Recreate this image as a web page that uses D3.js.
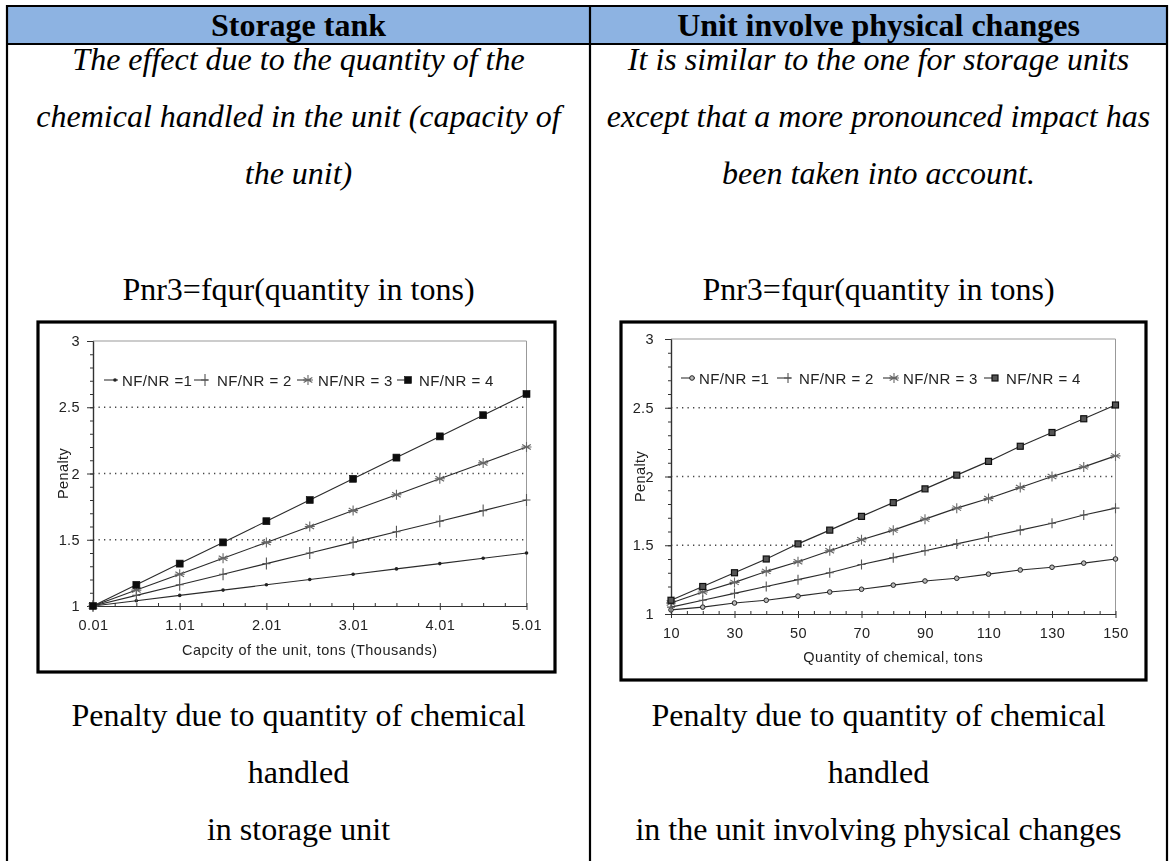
<!DOCTYPE html>
<html>
<head>
<meta charset="utf-8">
<script src="https://cdn.jsdelivr.net/npm/d3@7"></script>
<style>
  html, body { margin: 0; padding: 0; background: #fff; }
  svg { display: block; }
</style>
</head>
<body>
<svg id="page" width="1173" height="861"></svg>
<script>
// ---- text content ----
const headers = ["Storage tank", "Unit involve physical changes"];
const descLeft = ["The effect due to the quantity of the", "chemical handled in the unit (capacity of", "the unit)"];
const descRight = ["It is similar to the one for storage units", "except that a more pronounced impact has", "been taken into account."];
const formulaText = "Pnr3=fqur(quantity in tons)";
const captionLeft = ["Penalty due to quantity of chemical", "handled", "in storage unit"];
const captionRight = ["Penalty due to quantity of chemical", "handled", "in the unit involving physical changes"];

// ---- chart data ----
const seriesLabelsLeft = ["NF/NR =1", "NF/NR = 2", "NF/NR = 3", "NF/NR = 4"];
const seriesLabelsRight = ["NF/NR =1", "NF/NR = 2", "NF/NR = 3", "NF/NR = 4"];

// storage tank: capacity in thousands of tons
const capacity = [0.01, 0.51, 1.01, 1.51, 2.01, 2.51, 3.01, 3.51, 4.01, 4.51, 5.01];
const storage1 = [1.00, 1.04, 1.08, 1.12, 1.16, 1.20, 1.24, 1.28, 1.32, 1.36, 1.40];
const storage2 = [1.00, 1.08, 1.16, 1.24, 1.32, 1.40, 1.48, 1.56, 1.64, 1.72, 1.80];
const storage3 = [1.00, 1.12, 1.24, 1.36, 1.48, 1.60, 1.72, 1.84, 1.96, 2.08, 2.20];
const storage4 = [1.00, 1.16, 1.32, 1.48, 1.64, 1.80, 1.96, 2.12, 2.28, 2.44, 2.60];

// physical-change unit: quantity in tons
const quantity = [10, 20, 30, 40, 50, 60, 70, 80, 90, 100, 110, 120, 130, 140, 150];
const physical1 = [1.03, 1.05, 1.08, 1.10, 1.13, 1.16, 1.18, 1.21, 1.24, 1.26, 1.29, 1.32, 1.34, 1.37, 1.40];
const physical2 = [1.05, 1.10, 1.15, 1.20, 1.25, 1.30, 1.36, 1.41, 1.46, 1.51, 1.56, 1.61, 1.66, 1.72, 1.77];
const physical3 = [1.08, 1.16, 1.23, 1.31, 1.38, 1.46, 1.54, 1.61, 1.69, 1.77, 1.84, 1.92, 2.00, 2.07, 2.15];
const physical4 = [1.10, 1.20, 1.30, 1.40, 1.51, 1.61, 1.71, 1.81, 1.91, 2.01, 2.11, 2.22, 2.32, 2.42, 2.52];

// ---- tick labels ----
const penaltyTicks = [1, 1.5, 2, 2.5, 3];
const gridLevels = [1.5, 2, 2.5];
const capacityTicks = [0.01, 1.01, 2.01, 3.01, 4.01, 5.01];
const quantityTicks = [10, 30, 50, 70, 90, 110, 130, 150];

const axisTitleLeft = "Capcity of the unit, tons (Thousands)";
const axisTitleRight = "Quantity of chemical, tons";
const yTitle = "Penalty";

// ---- page ----
const svg = d3.select("#page");
const serif = "'Liberation Serif', 'Times New Roman', serif";
const sans = "'Liberation Sans', Arial, Helvetica, sans-serif";

const defs = svg.append("defs");
defs.append("filter").attr("id", "soft").attr("x", "-5%").attr("y", "-5%").attr("width", "110%").attr("height", "110%")
  .append("feGaussianBlur").attr("stdDeviation", 0.45);

const T = { left: 7, mid: 590, right: 1167, top: 6, head: 44, bottom: 861 };
const colCenter = [(T.left + T.mid) / 2, (T.mid + T.right) / 2];

// header band
svg.append("rect").attr("x", T.left).attr("y", T.top).attr("width", T.right - T.left).attr("height", T.head - T.top)
  .attr("fill", "#8db3e2");

// header titles
svg.selectAll("text.head").data(headers).join("text")
  .attr("class", "head")
  .attr("x", (d, i) => colCenter[i]).attr("y", 36)
  .attr("text-anchor", "middle")
  .style("font-family", serif).style("font-weight", "bold").style("font-size", "32px")
  .text(d => d);

// description (italic) and captions
const lineGap = 57;
function block(lines, col, y0, italic) {
  svg.append("g").selectAll("text").data(lines).join("text")
    .attr("x", colCenter[col]).attr("y", (d, i) => y0 + i * lineGap)
    .attr("text-anchor", "middle")
    .style("font-family", serif).style("font-size", "32px")
    .style("font-style", italic ? "italic" : "normal")
    .text(d => d);
}
block(descLeft, 0, 70, true);
block(descRight, 1, 70, true);
block([formulaText], 0, 300, false);
block([formulaText], 1, 300, false);
block(captionLeft, 0, 726, false);
block(captionRight, 1, 726, false);

// table rules
const rules = svg.append("g").attr("stroke", "#000").attr("stroke-width", 2.2);
rules.append("line").attr("x1", T.left - 1).attr("x2", T.right + 1).attr("y1", T.top).attr("y2", T.top);
rules.append("line").attr("x1", T.left - 1).attr("x2", T.right + 1).attr("y1", T.head).attr("y2", T.head);
[T.left, T.mid, T.right].forEach(xv =>
  rules.append("line").attr("x1", xv).attr("x2", xv).attr("y1", T.top - 1).attr("y2", T.bottom));

// ---- markers ----
function drawMarker(g, kind, cx, cy, style) {
  const s = style === "right";
  if (kind === 0) {
    if (s) {
      g.append("circle").attr("cx", cx).attr("cy", cy).attr("r", 2.3)
        .attr("fill", "#bbb").attr("stroke", "#222").attr("stroke-width", 1);
    } else {
      g.append("circle").attr("cx", cx).attr("cy", cy).attr("r", 1.8).attr("fill", "#222");
    }
  } else if (kind === 1) {
    const h = s ? 5 : 6, w = 4;
    g.append("path").attr("d", `M${cx - w},${cy}H${cx + w}M${cx},${cy - h}V${cy + h}`)
      .attr("stroke", "#555").attr("stroke-width", 1.1).attr("fill", "none");
  } else if (kind === 2) {
    const r = 5;
    const d = [0, 60, 120].map(a => {
      const t = a * Math.PI / 180;
      return `M${cx - r * Math.sin(t)},${cy - r * Math.cos(t)}L${cx + r * Math.sin(t)},${cy + r * Math.cos(t)}`;
    }).join("") + `M${cx - r},${cy}H${cx + r}`;
    g.append("path").attr("d", d).attr("stroke", "#666").attr("stroke-width", 1.1).attr("fill", "none");
  } else {
    const a = s ? 3 : 3.5;
    g.append("rect").attr("x", cx - a).attr("y", cy - a).attr("width", 2 * a).attr("height", 2 * a)
      .attr("fill", s ? "#555" : "#111").attr("stroke", "#111").attr("stroke-width", s ? 1.2 : 0.6);
  }
}

// ---- chart panel ----
function drawChart(cfg) {
  const g = svg.append("g");
  g.append("rect")
    .attr("x", cfg.box[0]).attr("y", cfg.box[1])
    .attr("width", cfg.box[2] - cfg.box[0]).attr("height", cfg.box[3] - cfg.box[1])
    .attr("fill", "#fff").attr("stroke", "#000").attr("stroke-width", 3.2);

  const c = g.append("g").attr("filter", "url(#soft)");
  const x = d3.scaleLinear().domain(cfg.xDomain).range([cfg.plot.left, cfg.plot.right]);
  const y = d3.scaleLinear().domain([1, 3]).range([cfg.plot.bottom, cfg.plot.top]);

  // dotted grid
  c.append("g").selectAll("line").data(gridLevels).join("line")
    .attr("x1", cfg.plot.left).attr("x2", cfg.plot.right)
    .attr("y1", d => y(d)).attr("y2", d => y(d))
    .attr("stroke", "#444").attr("stroke-width", 1.3).attr("stroke-dasharray", "1.3 4.2");

  // top and right frame
  c.append("path")
    .attr("d", `M${cfg.plot.left},${y(3)}H${cfg.plot.right}V${y(1)}`)
    .attr("fill", "none").attr("stroke", "#999").attr("stroke-width", 1);

  // y axis: minor then major ticks
  const yMinor = c.append("g").attr("transform", `translate(${cfg.plot.left},0)`)
    .call(d3.axisLeft(y).tickValues(d3.range(1, 3.001, 0.1)).tickSize(3).tickFormat("").tickSizeOuter(0));
  const yMajor = c.append("g").attr("transform", `translate(${cfg.plot.left},0)`)
    .call(d3.axisLeft(y).tickValues(penaltyTicks).tickSize(6).tickPadding(cfg.yPad)
      .tickFormat(d3.format("~g")).tickSizeOuter(0));

  // x axis: minor ticks point up, major ticks down
  const xMinor = c.append("g").attr("transform", `translate(0,${cfg.plot.bottom})`)
    .call(d3.axisBottom(x).tickValues(cfg.xMinor).tickSize(-3).tickFormat("").tickSizeOuter(0));
  const xMajor = c.append("g").attr("transform", `translate(0,${cfg.plot.bottom})`)
    .call(d3.axisBottom(x).tickValues(cfg.xTicks).tickSize(4).tickPadding(10)
      .tickFormat(cfg.xFormat).tickSizeOuter(0));

  [yMinor, yMajor, xMinor, xMajor].forEach(a => {
    a.select(".domain").attr("stroke", "#333").attr("stroke-width", 1.2);
    a.selectAll(".tick line").attr("stroke", "#333").attr("stroke-width", 1);
    a.selectAll("text").attr("fill", "#222")
      .style("font-family", sans).style("font-size", "14.5px").style("letter-spacing", "0.4px");
  });

  // axis titles
  c.append("text")
    .attr("x", (cfg.plot.left + cfg.plot.right) / 2).attr("y", cfg.xTitleY)
    .attr("text-anchor", "middle").attr("fill", "#222")
    .style("font-family", sans).style("font-size", "14.5px").style("letter-spacing", "0.5px")
    .text(cfg.xTitle);
  c.append("text")
    .attr("transform", `translate(${cfg.yTitleX},${y(2)}) rotate(-90)`)
    .attr("text-anchor", "middle").attr("fill", "#222")
    .style("font-family", sans).style("font-size", "14.5px").style("letter-spacing", "0.4px")
    .text(yTitle);

  // series lines and markers
  const line = d3.line().x(d => x(d[0])).y(d => y(d[1]));
  cfg.series.forEach((vals, k) => {
    const pts = cfg.xs.map((xv, i) => [xv, vals[i]]);
    c.append("path").datum(pts).attr("d", line)
      .attr("fill", "none").attr("stroke", "#2a2a2a").attr("stroke-width", 1.1);
    const mg = c.append("g");
    pts.forEach(p => drawMarker(mg, k, x(p[0]), y(p[1]), cfg.style));
  });

  // legend
  const lg = c.append("g");
  cfg.legend.forEach((item, k) => {
    lg.append("line").attr("x1", item.mx - 11).attr("x2", item.mx + 3)
      .attr("y1", cfg.legendY).attr("y2", cfg.legendY)
      .attr("stroke", "#333").attr("stroke-width", 1.1);
    drawMarker(lg, k, item.mx, cfg.legendY, cfg.style);
    lg.append("text").attr("x", item.tx).attr("y", cfg.legendY + 5.5)
      .attr("fill", "#222")
      .style("font-family", sans).style("font-size", "15px").style("letter-spacing", "0.4px")
      .text(cfg.labels[k]);
  });
}

drawChart({
  box: [38, 322, 555, 672],
  plot: { left: 93, right: 526.5, top: 341, bottom: 606 },
  xDomain: [0.01, 5.01],
  xs: capacity,
  series: [storage1, storage2, storage3, storage4],
  xTicks: capacityTicks,
  xMinor: d3.range(0.01, 5.02, 0.25),
  xFormat: d3.format(".2f"),
  xTitle: axisTitleLeft,
  xTitleY: 655,
  yTitleX: 68,
  yPad: 7,
  labels: seriesLabelsLeft,
  legendY: 380,
  legend: [{ mx: 115, tx: 122 }, { mx: 205, tx: 217 }, { mx: 308, tx: 318 }, { mx: 408, tx: 419 }],
  style: "left"
});

drawChart({
  box: [621, 322, 1146, 680],
  plot: { left: 671, right: 1115.5, top: 339, bottom: 614 },
  xDomain: [10, 150],
  xs: quantity,
  series: [physical1, physical2, physical3, physical4],
  xTicks: quantityTicks,
  xMinor: d3.range(10, 151, 5),
  xFormat: d3.format("d"),
  xTitle: axisTitleRight,
  xTitleY: 662,
  yTitleX: 645,
  yPad: 11,
  labels: seriesLabelsRight,
  legendY: 378,
  legend: [{ mx: 692, tx: 699 }, { mx: 788, tx: 799 }, { mx: 894, tx: 903 }, { mx: 995, tx: 1006 }],
  style: "right"
});
</script>
</body>
</html>
